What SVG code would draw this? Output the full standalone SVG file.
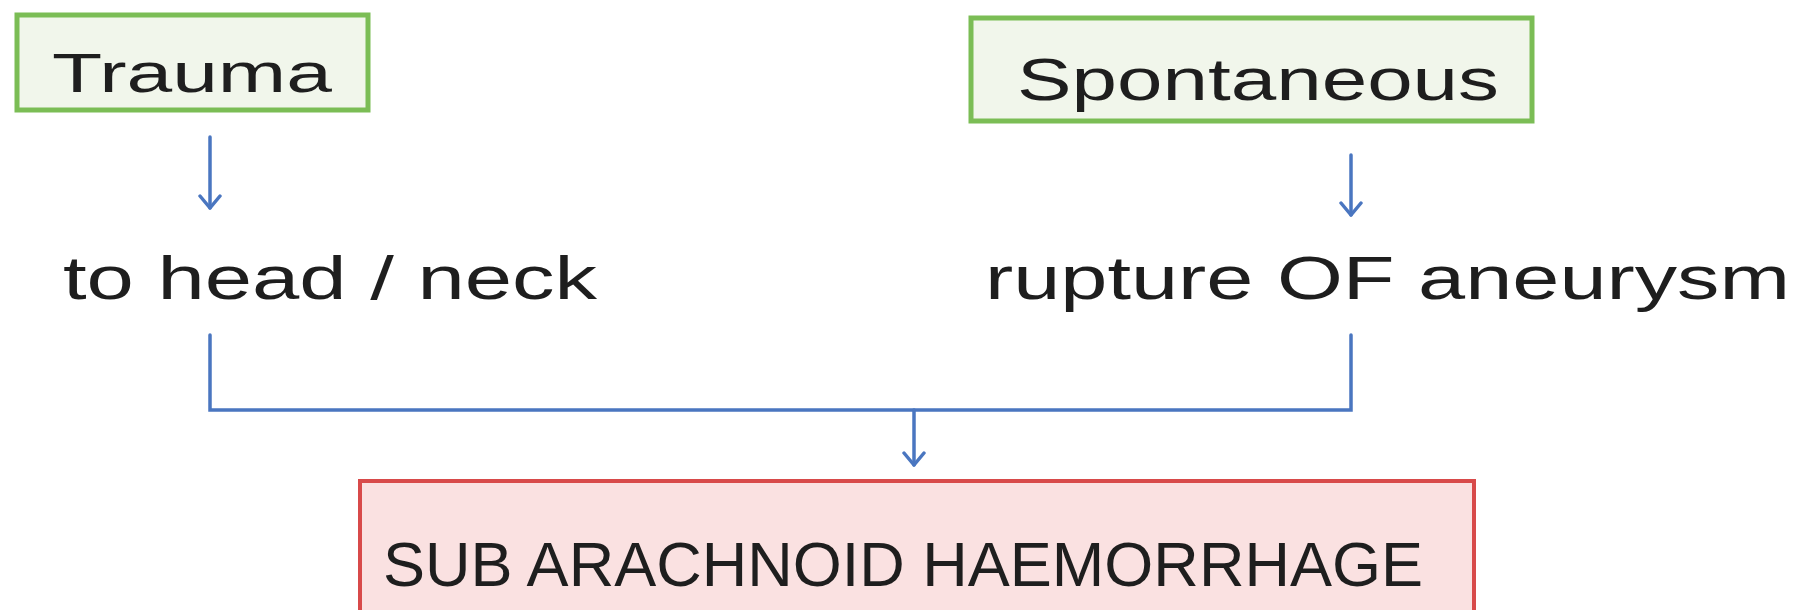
<svg xmlns="http://www.w3.org/2000/svg" width="1801" height="610" viewBox="0 0 1801 610">
<defs>
<marker id="arr" viewBox="0 0 24 24" refX="22" refY="12" markerWidth="24" markerHeight="24" markerUnits="userSpaceOnUse" orient="auto">
<path d="M10 2 L22 12 L10 22" fill="none" stroke="#4a76c0" stroke-width="3.5" stroke-linecap="round" stroke-linejoin="round"/>
</marker>
<style>
.g{fill:#f1f6eb;stroke:#7bbd55;stroke-width:5}
.r{fill:#fae1e1;stroke:#d84a4a;stroke-width:4}
.t{font-family:"Liberation Sans",Arial,sans-serif;fill:#1e1e1e}
.c{fill:none;stroke:#4a76c0;stroke-width:3.5;stroke-linecap:round}
</style>
</defs>
<rect width="1801" height="610" fill="#ffffff"/>
<g id="trauma">
<rect class="g" x="17" y="15" width="351" height="95"/>
<text class="t" x="52" y="92" font-size="56" textLength="280" lengthAdjust="spacingAndGlyphs">Trauma</text>
</g>
<g id="spontaneous">
<rect class="g" x="971" y="18" width="561" height="103"/>
<text class="t" x="1017" y="100" font-size="60" textLength="482" lengthAdjust="spacingAndGlyphs">Spontaneous</text>
</g>
<g id="head-neck">
<text class="t" x="63" y="299" font-size="62" textLength="534" lengthAdjust="spacingAndGlyphs">to head / neck</text>
</g>
<g id="rupture">
<text class="t" x="985" y="299" font-size="62" textLength="805" lengthAdjust="spacingAndGlyphs">rupture OF aneurysm</text>
</g>
<g id="sah">
<rect class="r" x="360" y="481" width="1114" height="140"/>
<text class="t" x="383" y="586" font-size="63" textLength="1040" lengthAdjust="spacingAndGlyphs">SUB ARACHNOID HAEMORRHAGE</text>
</g>
<g id="connectors">
<line class="c" x1="210" y1="137" x2="210" y2="208" marker-end="url(#arr)"/>
<line class="c" x1="1351" y1="155" x2="1351" y2="215" marker-end="url(#arr)"/>
<path class="c" d="M210 335 L210 410 L1351 410 L1351 335"/>
<line class="c" x1="914" y1="410" x2="914" y2="465" marker-end="url(#arr)"/>
</g>
</svg>
